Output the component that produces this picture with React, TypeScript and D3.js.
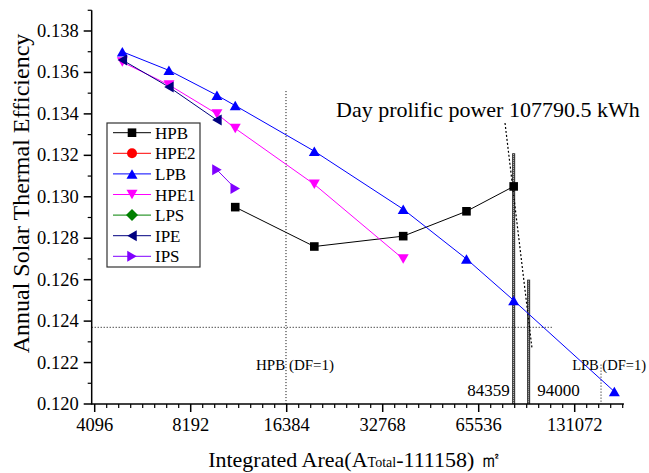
import React from "react";
import * as d3 from "d3";

// ---------- data ----------
const SERIES_NAMES = ["HPB", "HPE2", "LPB", "HPE1", "LPS", "IPE", "IPS"];
const SERIES_COLORS = ["#000000", "#ff0000", "#0000ff", "#ff00ff", "#008000", "#000080", "#8000ff"];
const SERIES_SHAPES = ["square", "circle", "up", "down", "diamond", "left", "right"];

const HPB_X = [11300, 20000, 38000, 60000, 84359];
const HPB_Y = [0.1295, 0.1276, 0.1281, 0.1293, 0.1305];
const HPE2_X: number[] = [];
const HPE2_Y: number[] = [];
const LPB_X = [5000, 7000, 9900, 11300, 20000, 38000, 60000, 84359, 174500];
const LPB_Y = [0.137, 0.1361, 0.1349, 0.1344, 0.1322, 0.1294, 0.127, 0.125, 0.1206];
const HPE1_X = [5000, 7000, 9900, 11300, 20000, 38000];
const HPE1_Y = [0.1365, 0.1354, 0.134, 0.1333, 0.1306, 0.127];
const LPS_X: number[] = [];
const LPS_Y: number[] = [];
const IPE_X = [5000, 7000, 9900];
const IPE_Y = [0.1366, 0.1353, 0.1337];
const IPS_X = [9900, 11300];
const IPS_Y = [0.1313, 0.1304];

const X_TICKS = [4096, 8192, 16384, 32768, 65536, 131072];
const Y_TICKS = [0.12, 0.122, 0.124, 0.126, 0.128, 0.13, 0.132, 0.134, 0.136, 0.138];

// annotations
const HPB_DF_X = 16300;
const HPB_DF_TOP = 0.1351;
const LPB_DF_X = 158500;
const LPB_DF_TOP = 0.1219;
const H_LINE_Y = 0.1237;
const H_LINE_END = 111158;
const MARK_X = [84359, 94000];
const MARK_TOP = [0.1321, 0.126];
const DIAG_X = [79250, 96270];
const DIAG_Y = [0.13356, 0.1227];

const X_MIN = 4008;
const X_MAX = 187000;
const Y_MIN = 0.12;
const Y_MAX = 0.139;

const FONT = "'Liberation Serif', 'Times New Roman', serif";

function markerPath(shape: string, s = 1): { d: string; rot: number } {
  const w = 11 * s,
    h = 9.5 * s;
  const tri = `M0,${-h / 2}L${w / 2},${h / 2}L${-w / 2},${h / 2}Z`;
  switch (shape) {
    case "square": {
      const a = 4.3 * s;
      return { d: `M${-a},${-a}H${a}V${a}H${-a}Z`, rot: 0 };
    }
    case "circle": {
      const r = 5 * s;
      return { d: `M${r},0A${r},${r} 0 1,1 ${-r},0A${r},${r} 0 1,1 ${r},0Z`, rot: 0 };
    }
    case "diamond": {
      const a = 6 * s;
      return { d: `M0,${-a}L${a},0L0,${a}L${-a},0Z`, rot: 0 };
    }
    case "up":
      return { d: tri, rot: 0 };
    case "down":
      return { d: tri, rot: 180 };
    case "left":
      return { d: tri, rot: -90 };
    case "right":
      return { d: tri, rot: 90 };
  }
  return { d: tri, rot: 0 };
}

function Marker({ x, y, shape, color }: { x: number; y: number; shape: string; color: string }) {
  const m = markerPath(shape);
  return <path d={m.d} transform={`translate(${x},${y}) rotate(${m.rot})`} fill={color} stroke="none" />;
}

export default function App() {
  const W = 649,
    H = 473;
  const x = d3.scaleLog().base(2).domain([4096, 131072]).range([94.7, 574.7]);
  const y = d3.scaleLinear().domain([0.12, 0.138]).range([404, 31]);

  const xs = [HPB_X, HPE2_X, LPB_X, HPE1_X, LPS_X, IPE_X, IPS_X];
  const ys = [HPB_Y, HPE2_Y, LPB_Y, HPE1_Y, LPS_Y, IPE_Y, IPS_Y];

  const line = d3
    .line<[number, number]>()
    .x((d) => x(d[0]))
    .y((d) => y(d[1]));

  const x0 = x(X_MIN);
  const x1 = x(X_MAX);
  const yb = y(Y_MIN);
  const yt = y(Y_MAX);

  // minor ticks: 8 subdivisions per octave (equal in log space)
  const minorX: number[] = [];
  for (let k = 0; k < 6; k++) {
    for (let j = 1; j < 8; j++) {
      const v = 4096 * Math.pow(2, k + j / 8);
      if (v < X_MAX) minorX.push(v);
    }
  }
  const minorY: number[] = [];
  for (let v = 0.121; v <= 0.1391; v += 0.002) minorY.push(v);

  const legendX = 107,
    legendY = 123,
    legendW = 93,
    legendH = 144,
    rowH = 20.6;

  return (
    <svg
      width={W}
      height={H}
      style={{ position: "absolute", left: 0, top: 0, background: "#fff" }}
      fontFamily={FONT}
    >
      <rect x={0} y={0} width={W} height={H} fill="#fff" />

      {/* reference lines */}
      <line x1={x(HPB_DF_X)} x2={x(HPB_DF_X)} y1={y(HPB_DF_TOP)} y2={yb} stroke="#000" strokeWidth={1} strokeDasharray="1,2" />
      <line x1={x(LPB_DF_X)} x2={x(LPB_DF_X)} y1={y(LPB_DF_TOP)} y2={yb} stroke="#000" strokeWidth={1} strokeDasharray="1,2" />
      <line x1={x0} x2={x(H_LINE_END)} y1={y(H_LINE_Y)} y2={y(H_LINE_Y)} stroke="#000" strokeWidth={1} strokeDasharray="1,2" />
      {MARK_X.map((mx, i) => (
        <g key={"mk" + i}>
          <line x1={x(mx) - 1} x2={x(mx) - 1} y1={y(MARK_TOP[i])} y2={yb} stroke="#222" strokeWidth={1} />
          <line x1={x(mx) + 1} x2={x(mx) + 1} y1={y(MARK_TOP[i])} y2={yb} stroke="#222" strokeWidth={1} />
          <line x1={x(mx)} x2={x(mx)} y1={y(MARK_TOP[i])} y2={yb} stroke="#000" strokeWidth={1} strokeDasharray="1,1" />
        </g>
      ))}
      <line
        x1={x(DIAG_X[0])}
        y1={y(DIAG_Y[0])}
        x2={x(DIAG_X[1])}
        y2={y(DIAG_Y[1])}
        stroke="#000"
        strokeWidth={1.2}
        strokeDasharray="2,2"
      />

      {/* series lines */}
      {xs.map((sx, i) =>
        sx.length > 1 ? (
          <path
            key={"l" + i}
            d={line(sx.map((v, j) => [v, ys[i][j]] as [number, number])) || ""}
            fill="none"
            stroke={SERIES_COLORS[i]}
            strokeWidth={1}
          />
        ) : null
      )}
      {/* markers */}
      {xs.map((sx, i) =>
        sx.map((v, j) => (
          <Marker key={"m" + i + "-" + j} x={x(v)} y={y(ys[i][j])} shape={SERIES_SHAPES[i]} color={SERIES_COLORS[i]} />
        ))
      )}

      {/* axes */}
      <line x1={x0} x2={x1} y1={yb} y2={yb} stroke="#000" strokeWidth={1.5} />
      <line x1={x0} x2={x0} y1={yb + 0.75} y2={yt} stroke="#000" strokeWidth={1.5} />
      {X_TICKS.map((t) => (
        <g key={"xt" + t}>
          <line x1={x(t)} x2={x(t)} y1={yb} y2={yb + 8} stroke="#000" strokeWidth={1.5} />
          <text x={x(t)} y={431} textAnchor="middle" fontSize={18.5} fill="#000">
            {t}
          </text>
        </g>
      ))}
      {minorX.map((t, i) => (
        <line key={"xm" + i} x1={x(t)} x2={x(t)} y1={yb} y2={yb + 4} stroke="#000" strokeWidth={1.2} />
      ))}
      {Y_TICKS.map((t) => (
        <g key={"yt" + t}>
          <line x1={x0} x2={x0 - 8} y1={y(t)} y2={y(t)} stroke="#000" strokeWidth={1.5} />
          <text x={x0 - 13} y={y(t) + 6} textAnchor="end" fontSize={18.5} fill="#000">
            {t.toFixed(3)}
          </text>
        </g>
      ))}
      {minorY.map((t, i) => (
        <line key={"ym" + i} x1={x0} x2={x0 - 4} y1={y(t)} y2={y(t)} stroke="#000" strokeWidth={1.2} />
      ))}

      {/* axis titles */}
      <text x={355} y={467} textAnchor="middle" fontSize={22} fill="#000">
        Integrated Area(A<tspan fontSize={14}>Total</tspan>-111158) ㎡
      </text>
      <text transform={`translate(29,193.5) rotate(-90)`} textAnchor="middle" fontSize={24} fill="#000">
        Annual Solar Thermal Efficiency
      </text>

      {/* annotation texts */}
      <text x={336} y={117} fontSize={22} fill="#000">
        Day prolific power 107790.5 kWh
      </text>
      <text x={x(MARK_X[0]) - 4} y={396} textAnchor="end" fontSize={17} fill="#000">
        84359
      </text>
      <text x={x(MARK_X[1]) + 8.5} y={396} fontSize={17} fill="#000">
        94000
      </text>
      <text x={x(HPB_DF_X) - 30} y={370} fontSize={15} fill="#000">
        HPB (DF=1)
      </text>
      <text x={646} y={370} textAnchor="end" fontSize={14.5} fill="#000">
        LPB (DF=1)
      </text>

      {/* legend */}
      <rect x={legendX} y={legendY} width={legendW} height={legendH} fill="#fff" stroke="#333" strokeWidth={1.2} />
      {SERIES_NAMES.map((n, i) => {
        const cy = 132.7 + i * rowH;
        return (
          <g key={"lg" + i}>
            <line x1={113} x2={151} y1={cy} y2={cy} stroke={SERIES_COLORS[i]} strokeWidth={1} />
            <Marker x={132} y={cy} shape={SERIES_SHAPES[i]} color={SERIES_COLORS[i]} />
            <text x={155} y={cy + 6} fontSize={17} fill="#000">
              {n}
            </text>
          </g>
        );
      })}
    </svg>
  );
}
